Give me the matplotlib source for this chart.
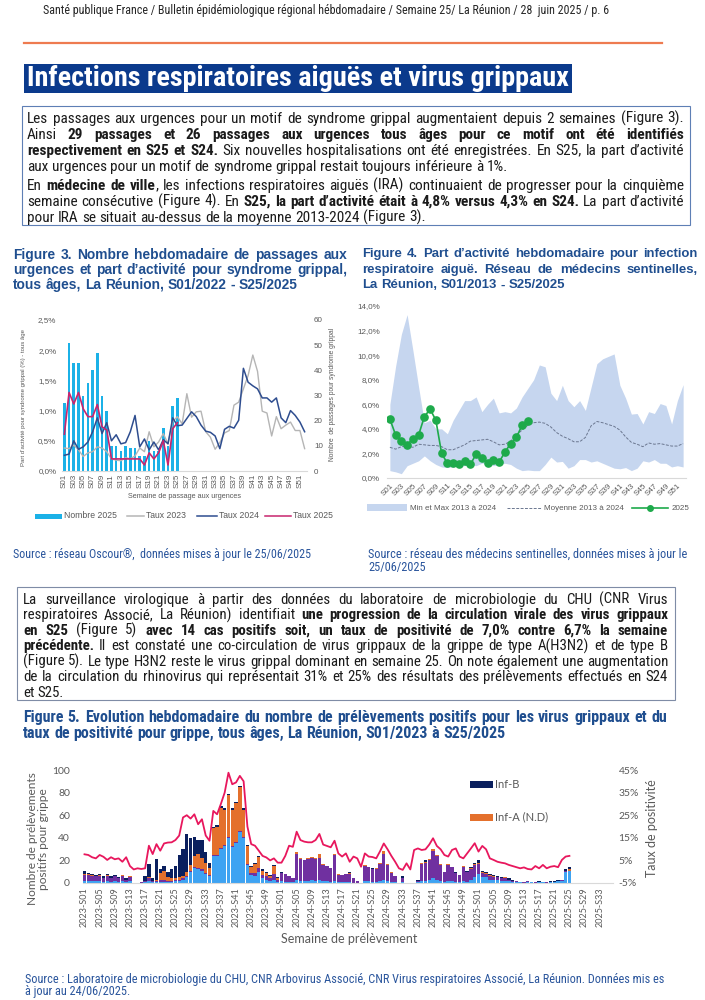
import matplotlib
matplotlib.use("Agg")
import matplotlib.pyplot as plt
from matplotlib import font_manager
from matplotlib.font_manager import FontProperties
from matplotlib.patches import Rectangle
from matplotlib.lines import Line2D
from matplotlib.ticker import FuncFormatter

W, H = 705, 1000

# ---------------- Figure 3 : passages aux urgences (S01..S52) ----------------
semaines = ["S%02d" % i for i in range(1, 53)]
nombre_2025 = [27, 51, 43, 43, 30, 35, 40, 47, 30, 24, 10, 10, 8, 10, 9, 9, 6, 6, 12, 8,
               8, 17, 10, 26, 29]
taux_2023 = [0.38, 0.37, 0.43, 0.35, 0.24, 0.30, 0.32, 0.40, 0.38, 0.32, 0.20, 0.18, 0.17,
             0.22, 0.20, 0.25, 0.38, 0.32, 0.65, 0.40, 0.48, 0.62, 0.45, 0.82, 0.90, 0.78,
             1.28, 0.89, 0.98, 0.99, 0.65, 0.56, 0.36, 0.47, 0.63, 0.67, 1.09, 1.14, 1.36,
             1.58, 1.92, 1.65, 0.99, 0.96, 0.58, 0.90, 0.70, 0.76, 0.81, 0.67, 0.67, 0.37]
taux_2024 = [0.26, 0.28, 0.50, 0.36, 0.40, 0.48, 0.65, 0.88, 0.62, 0.80, 0.50, 0.60, 0.45,
             0.47, 0.65, 0.92, 0.40, 0.53, 0.35, 0.48, 0.35, 0.52, 0.45, 0.88, 0.75, 0.76,
             0.87, 0.98, 0.90, 0.76, 0.66, 0.64, 0.58, 0.37, 0.69, 0.74, 0.71, 0.84, 1.70,
             1.47, 1.41, 1.36, 1.21, 1.21, 1.14, 1.21, 0.88, 0.80, 1.00, 0.92, 0.81, 0.65]
taux_2025 = [0.61, 1.30, 1.11, 1.30, 1.03, 0.90, 0.90, 1.10, 0.73, 0.68, 0.20, 0.20, 0.20,
             0.20, 0.20, 0.20, 0.20, 0.10, 0.30, 0.20, 0.30, 0.50, 0.10, 0.70, 0.80]

# ---------------- Figure 4 : IRA médecins sentinelles ----------------
ira_max = [6.0, 9.1, 11.7, 13.3, 10.4, 7.4, 4.5, 4.7, 4.0, 4.0, 3.6, 4.7, 5.5, 6.3, 6.3,
           6.6, 5.4, 6.0, 6.5, 5.3, 5.4, 5.3, 5.7, 6.6, 7.3, 8.0, 9.2, 9.05, 6.9, 6.3, 7.55,
           6.3, 5.8, 6.3, 5.5, 7.4, 9.3, 9.7, 9.9, 10.1, 7.55, 6.5, 5.2, 5.25, 4.4, 5.4,
           5.25, 6.06, 5.9, 4.4, 6.3, 7.6]
ira_min = [0.6, 0.5, 0.35, 1.0, 1.2, 1.4, 1.8, 1.4, 1.1, 0.9, 0.85, 0.9, 1.0, 1.0, 1.1,
           1.0, 1.2, 1.2, 1.0, 1.1, 1.2, 1.1, 0.8, 0.6, 0.65, 0.6, 0.6, 1.1, 1.7, 1.3, 1.35,
           0.8, 1.0, 1.5, 1.5, 1.3, 1.4, 1.2, 1.0, 0.8, 0.75, 0.85, 0.6, 0.8, 1.4, 1.3, 1.5,
           1.2, 1.2, 0.9, 1.0, 0.9]
ira_moyenne = [2.5, 2.35, 2.55, 2.6, 2.5, 2.75, 2.7, 2.65, 2.65, 2.55, 2.3, 2.3, 2.5, 2.7,
               3.0, 3.05, 3.1, 3.15, 2.95, 2.7, 2.75, 3.0, 3.5, 3.9, 4.3, 4.5, 4.55, 4.45,
               4.15, 3.7, 3.4, 3.2, 2.95, 2.95, 3.3, 4.25, 4.6, 4.5, 4.35, 4.2, 3.9, 3.35,
               2.9, 2.75, 2.55, 2.85, 2.75, 2.8, 2.7, 2.6, 2.6, 2.8]
ira_2025 = [4.8, 3.5, 3.0, 2.7, 3.2, 3.5, 5.0, 5.6, 4.7, 2.0, 1.2, 1.25, 1.1, 1.35, 1.1,
            1.95, 1.6, 1.2, 1.5, 1.3, 2.1, 2.8, 3.3, 4.3, 4.65]

# ---------------- Figure 5 : prélèvements positifs grippe ----------------
# 2023 S01..S52
h3n2_2023 = [2, 2, 2, 2, 2, 1, 2, 1, 2, 1, 2, 1, 2, 0, 0, 0,
             1, 2, 1, 1, 1, 1, 1, 1, 2, 2, 3, 5, 10, 13, 12, 11, 8, 6,
             24, 24, 30, 33, 40, 32, 35, 45, 40, 16, 7, 6, 10, 4, 3, 2, 3, 1]
h1n1_2023 = [5, 5, 4, 4, 4, 3, 4, 3, 4, 3, 4, 2, 3, 0, 0, 1,
             1, 2, 1, 1, 2, 2, 1, 1, 1, 1, 1, 1, 1, 1, 1, 1, 1, 1,
             1, 1, 1, 1, 1, 1, 1, 1, 1, 1, 2, 3, 3, 3, 3, 2, 5, 2]
a_nd_2023 = [1, 1, 1, 0, 1, 0, 1, 0, 0, 0, 1, 0, 1, 0, 0, 0,
             0, 1, 0, 1, 6, 8, 3, 2, 1, 2, 2, 4, 5, 10, 13, 10, 9, 6,
             24, 25, 35, 31, 37, 32, 35, 39, 24, 16, 5, 8, 10, 4, 3, 2, 7, 1]
inf_b_2023 = [3, 1, 1, 1, 1, 2, 1, 2, 1, 1, 0, 1, 0, 0, 0, 0,
              4, 12, 2, 18, 3, 4, 5, 8, 11, 20, 24, 33, 24, 17, 12, 16, 9, 5,
              1, 1, 2, 1, 1, 1, 1, 1, 1, 1, 1, 1, 1, 1, 1, 1, 1, 1]
positivite_2023 = [7.7, 7.4, 6.4, 5.9, 7.4, 6.6, 5.2, 6.4, 5.5, 5.9, 4.4, 6.4, 2.5, 1.0,
                   1.5, 1.2, 1.5, 11.5, 7.8, 12.2, 9.3, 12.5, 12.9, 13.0, 14.0, 16.0, 24.0,
                   25.0, 23.5, 25.4, 21.0, 23.2, 16.0, 13.7, 26.9, 25.4, 30.0, 35.0, 43.8,
                   38.7, 39.5, 42.4, 40.0, 20.0, 12.2, 11.5, 9.3, 7.0, 6.3, 5.0, 5.9, 4.0]
# 2024 S01..S52
h3n2_2024 = [2, 1, 1, 1, 3, 2, 2, 2, 3, 2, 3, 2, 2, 1, 2, 1, 1, 1, 1, 0, 0, 0,
             2, 2, 1, 1, 2, 3, 2, 1, 1, 0, 1, 0, 0, 0,
             1, 2, 2, 3, 4, 3, 2, 1, 2, 2, 1, 1, 2, 1, 3, 5]
h1n1_2024 = [7, 7, 5, 3, 23, 19, 18, 19, 19, 19, 19, 14, 13, 12, 23, 6, 6, 7, 7, 4, 2, 0,
             13, 12, 11, 11, 15, 23, 14, 8, 5, 0, 3, 0, 0, 0,
             1, 15, 16, 17, 24, 21, 14, 9, 14, 12, 8, 6, 12, 9, 9, 11]
a_nd_2024 = [0, 0, 0, 0, 1, 1, 0, 1, 1, 1, 4, 1, 0, 0, 1, 1, 0, 0, 1, 0, 0, 0,
             1, 0, 0, 1, 1, 2, 1, 1, 0, 0, 0, 0, 0, 0,
             0, 1, 1, 1, 2, 1, 1, 0, 1, 0, 0, 0, 1, 0, 1, 1]
inf_b_2024 = [1, 0, 0, 0, 0, 0, 0, 0, 0, 0, 0, 0, 0, 0, 0, 0, 0, 0, 1, 0, 0, 0,
              0, 0, 1, 0, 0, 0, 0, 0, 0, 0, 2, 0, 0, 0,
              1, 0, 1, 0, 0, 0, 0, 0, 0, 0, 1, 0, 0, 1, 1, 1]
positivite_2024 = [4.0, 7.0, 11.5, 11.0, 17.7, 14.0, 13.3, 13.0, 13.0, 14.0, 16.7, 12.0,
                   11.4, 10.8, 13.7, 8.1, 6.7, 8.1, 4.4, 6.7, 5.9, 2.2, 8.1, 6.7, 6.5, 5.9,
                   9.0, 12.5, 9.9, 7.0, 4.4, 1.5, 0.8, 3.7, 1.0, 9.6, 10.3, 9.6, 9.9, 12.0,
                   14.8, 11.4, 9.9, 7.4, 6.7, 9.6, 10.3, 6.7, 5.9, 8.1, 10.3, 12.6]
# 2025 S01..S25
h3n2_2025 = [8, 5, 5, 3, 3, 3, 2, 2, 2, 1, 1, 1, 0, 1, 1, 0, 1, 1, 0, 1, 1, 2, 2, 10, 11]
h1n1_2025 = [9, 4, 3, 3, 2, 2, 2, 2, 1, 1, 1, 0, 1, 1, 0, 1, 0, 0, 1, 0, 0, 0, 1, 1, 0]
a_nd_2025 = [1, 1, 1, 1, 1, 0, 0, 1, 0, 0, 0, 0, 0, 0, 0, 0, 0, 0, 0, 0, 0, 0, 0, 0, 1]
inf_b_2025 = [2, 1, 1, 1, 1, 1, 1, 0, 1, 1, 0, 0, 0, 0, 0, 0, 1, 0, 0, 1, 1, 1, 0, 1, 2]
positivite_2025 = [8.9, 11.4, 9.9, 5.9, 5.2, 4.4, 4.0, 3.7, 3.0, 2.5, 2.0, 1.5, 1.9, 1.2,
                   1.0, 2.5, 1.5, 3.0, 1.5, 2.2, 2.5, 2.0, 5.2, 6.7, 7.0]

semaines_prelev = (["2023-S%02d" % i for i in range(1, 53)] +
                   ["2024-S%02d" % i for i in range(1, 53)] +
                   ["2025-S%02d" % i for i in range(1, 37)])

# ---------------- textes ----------------
entete = ("Santé publique France / Bulletin épidémiologique régional hébdomadaire / "
          "Semaine 25/ La Réunion / 28  juin 2025 / p. 6")
bandeau = "Infections respiratoires aiguës et virus grippaux"

encadre1 = [
    [("Les passages aux urgences pour un motif de syndrome grippal augmentaient depuis 2 semaines (Figure 3).", 0)],
    [("Ainsi ", 0), ("29 passages et 26 passages aux urgences tous âges pour ce motif ont été identifiés", 1)],
    [("respectivement en S25 et S24.", 1), (" Six nouvelles hospitalisations ont été enregistrées. En S25, la part d’activité", 0)],
    [("aux urgences pour un motif de syndrome grippal restait toujours inférieure à 1%.", 0)],
    [("En ", 0), ("médecine de ville", 1), (", les infections respiratoires aiguës (IRA) continuaient de progresser pour la cinquième", 0)],
    [("semaine consécutive (Figure 4). En ", 0), ("S25, la part d’activité était à 4,8% versus 4,3% en S24.", 1), (" La part d’activité", 0)],
    [("pour IRA se situait au-dessus de la moyenne 2013-2024 (Figure 3).", 0)],
]
encadre1_justif = [1, 1, 1, 0, 1, 1, 0]

encadre2 = [
    [("La surveillance virologique à partir des données du laboratoire de microbiologie du CHU (CNR Virus", 0)],
    [("respiratoires Associé, La Réunion) identifiait ", 0), ("une progression de la circulation virale des virus grippaux", 1)],
    [("en S25", 1), (" (Figure 5) ", 0), ("avec 14 cas positifs soit, un taux de positivité de 7,0% contre 6,7% la semaine", 1)],
    [("précédente.", 1), (" Il est constaté une co-circulation de virus grippaux de la grippe de type A(H3N2) et de type B", 0)],
    [("(Figure 5). Le type H3N2 reste le virus grippal dominant en semaine 25. On note également une augmentation", 0)],
    [("de la circulation du rhinovirus qui représentait 31% et 25% des résultats des prélèvements effectués en S24", 0)],
    [("et S25.", 0)],
]
encadre2_justif = [1, 1, 1, 1, 1, 1, 0]

titre3 = [[("Figure 3. Nombre hebdomadaire de passages aux", 1)],
          [("urgences et part d’activité pour syndrome grippal,", 1)],
          [("tous âges, La Réunion, S01/2022 - S25/2025", 1)]]
titre4 = [[("Figure 4.  Part d’activité hebdomadaire pour infection", 1)],
          [("respiratoire aiguë. Réseau de médecins sentinelles,", 1)],
          [("La Réunion, S01/2013 - S25/2025", 1)]]
titre5 = [[("Figure 5. Evolution hebdomadaire du nombre de prélèvements positifs pour les virus grippaux et du", 1)],
          [("taux de positivité pour grippe, tous âges, La Réunion, S01/2023 à S25/2025", 1)]]

# ---------------- polices / couleurs ----------------
noms = {f.name for f in font_manager.fontManager.ttflist}
ARIAL = "Liberation Sans"
CALIBRI = "Lato" if "Lato" in noms else "DejaVu Sans"
plt.rcParams["font.family"] = ARIAL


def poids(f):
    if isinstance(f.weight, (int, float)):
        return int(f.weight)
    return {"bold": 700, "normal": 400, "regular": 400, "book": 400}.get(str(f.weight).lower(), 400)


def fichier_etroit(gras):
    # cherche une police sans empattement étroite (type Arial Narrow) installée
    ordre = ["liberation", "arial", "roboto", "open sans", "noto sans", "dejavu sans"]
    best = None
    for f in font_manager.fontManager.ttflist:
        n = f.name.lower()
        etroit = "narrow" in n or "condensed" in n or f.stretch in ("condensed", "semi-condensed")
        if not etroit or f.style != "normal" or "mono" in n or "cjk" in n:
            continue
        if "serif" in n and "sans" not in n:
            continue
        w = poids(f)
        if (gras and w != 700) or (not gras and w != 400):
            continue
        rang = next((i for i, o in enumerate(ordre) if o in n), len(ordre))
        if best is None or rang < best[0]:
            best = (rang, f.fname)
    return best[1] if best else None


ETROIT = {"normal": fichier_etroit(False), "bold": fichier_etroit(True)}


def props(fam, weight="normal"):
    if fam == "narrow":
        if ETROIT["normal"] and ETROIT["bold"]:
            return {"fontproperties": FontProperties(fname=ETROIT[weight])}
        fam = ARIAL
    return {"family": fam, "weight": weight}


BLEU_TITRE = "#1F4E8F"
BLEU_SOURCE = "#2A559C"
GRIS = "#595959"

fig = plt.figure(figsize=(W / 100, H / 100), dpi=100)
rend = fig.canvas.get_renderer()


def px(x):
    return x / W


def py(y):
    return 1 - y / H


def largeur(s, size, fam, weight="normal"):
    t = fig.text(0, 0, s, fontsize=size, **props(fam, weight))
    w = t.get_window_extent(renderer=rend).width
    t.remove()
    return w


def mots(segs):
    # découpe les segments (texte, gras) en mots, en gardant les morceaux collés
    toks, cur = [], []
    for txt, gras in segs:
        for i, m in enumerate(txt.split(" ")):
            if i > 0 and cur:
                toks.append(cur)
                cur = []
            if m:
                cur.append((m, "bold" if gras else "normal"))
    if cur:
        toks.append(cur)
    return toks


def paragraphe(lignes, justif, x0, x1, ys, fam, color, maxsize=20):
    ref = 10.0
    esp = largeur("a a", ref, fam) - largeur("aa", ref, fam)
    toks = [mots(l) for l in lignes]
    # taille de police pour que la ligne justifiée la plus longue tienne
    echelle = []
    for tk, j in zip(toks, justif):
        nat = sum(largeur(m, ref, fam, w) for tok in tk for m, w in tok) + esp * (len(tk) - 1)
        if j:
            echelle.append((x1 - x0) / nat)
    size = min(maxsize, ref * min(echelle) * 0.985) if echelle else maxsize
    esp = esp * size / ref
    for tk, j, y in zip(toks, justif, ys):
        larg = [sum(largeur(m, size, fam, w) for m, w in tok) for tok in tk]
        gap = (x1 - x0 - sum(larg)) / (len(tk) - 1) if (j and len(tk) > 1) else esp
        base = y + 0.33 * size * 100 / 72
        x = x0
        for tok, lw in zip(tk, larg):
            xx = x
            for m, w in tok:
                fig.text(px(xx), py(base), m, fontsize=size, color=color, ha="left",
                         va="baseline", **props(fam, w))
                xx += largeur(m, size, fam, w)
            x += lw + gap


def ligne_ajustee(s, x0, x1, y, fam, color, weight="normal"):
    size = 10.0 * (x1 - x0) / largeur(s, 10.0, fam, weight)
    fig.text(px(x0), py(y + 0.33 * size * 100 / 72), s, fontsize=size, color=color,
             ha="left", va="baseline", **props(fam, weight))
    return size


def ligne_simple(s, x0, y, size, fam, color):
    fig.text(px(x0), py(y + 0.33 * size * 100 / 72), s, fontsize=size, color=color,
             ha="left", va="baseline", **props(fam))


# ---------------- en-tête ----------------
ligne_ajustee(entete, 43, 610, 10, "narrow", "#262626")
fig.add_artist(Line2D([px(24), px(662)], [py(43), py(43)], color="#EE7B50", lw=1.6))
fig.add_artist(Rectangle((px(24), py(93)), 548 / W, 29 / H, color="#0B3A8C", lw=0))
ligne_ajustee(bandeau, 27, 570, 77, "narrow", "white", "bold")

# encadré 1
fig.add_artist(Rectangle((px(22), py(225)), 668 / W, 119 / H, fill=False,
                         edgecolor="#5E7FB5", lw=0.8))
paragraphe(encadre1, encadre1_justif, 27, 684,
           [117.5, 133.5, 149.5, 165.5, 184.5, 200.5, 216.5], "narrow", "#1A1A1A")

# titres figures 3 et 4
paragraphe(titre3, [1, 1, 0], 13, 347, [254, 269, 284], ARIAL, BLEU_TITRE)
paragraphe(titre4, [1, 1, 0], 362, 698, [253, 269, 284], ARIAL, BLEU_TITRE)

# ---------------- Figure 3 ----------------
ax3 = fig.add_axes([px(62), py(471), 245 / W, 151 / H])
ax3t = ax3.twinx()
x3 = list(range(52))
ax3.bar(x3[:25], nombre_2025, width=0.55, color="#1BB1E7", lw=0)
ax3.set_ylim(0, 60)
ax3.set_xlim(-0.5, 51.5)
ax3.set_yticks(range(0, 61, 10))
ax3.yaxis.tick_right()
ax3t.yaxis.tick_left()
ax3t.plot(x3, taux_2023, color="#B5B5B5", lw=1.0)
ax3t.plot(x3, taux_2024, color="#2E4D8F", lw=1.1)
ax3t.plot(x3[:25], taux_2025, color="#C8246E", lw=1.2)
ax3t.set_ylim(0, 2.5)
ax3t.set_yticks([0, 0.5, 1.0, 1.5, 2.0, 2.5])
ax3t.yaxis.set_major_formatter(FuncFormatter(lambda v, p: ("%.1f%%" % v).replace(".", ",")))
ax3.set_xticks(x3[::2])
ax3.set_xticklabels(semaines[::2], rotation=90)
for a in (ax3, ax3t):
    for s in ("top", "left", "right"):
        a.spines[s].set_visible(False)
    a.tick_params(length=0, labelsize=5.8, colors=GRIS)
ax3t.spines["bottom"].set_visible(False)
ax3.spines["bottom"].set_color("#D9D9D9")
ax3.tick_params(axis="y", pad=5)
ax3t.tick_params(axis="y", pad=4)
ax3.tick_params(axis="x", pad=2)
fig.text(px(24), py(398), "Part d’activité pour syndrome grippal (%) - tous âge", rotation=90,
         fontsize=4.3, color=GRIS, ha="center", va="center")
fig.text(px(333), py(394), "Nombre  de passages pour syndrome grippal", rotation=90,
         fontsize=4.8, color=GRIS, ha="center", va="center")
fig.text(px(185), py(497), "Semaine de passage aux urgences", fontsize=5.2, color=GRIS,
         ha="center", va="center")
# légende figure 3
fig.add_artist(Rectangle((px(35), py(518.5)), 27 / W, 5 / H, color="#1BB1E7", lw=0))
fig.text(px(64), py(516), "Nombre 2025", fontsize=6.2, color=GRIS, va="center")
for xa, xb, c, lab in [(127, 144, "#B5B5B5", "Taux 2023"), (197, 217, "#2E4D8F", "Taux 2024"),
                       (265, 291, "#C8246E", "Taux 2025")]:
    fig.add_artist(Line2D([px(xa), px(xb)], [py(516), py(516)], color=c, lw=1.1))
    fig.text(px(xb + 2), py(516), lab, fontsize=6.2, color=GRIS, va="center")

# ---------------- Figure 4 ----------------
ax4 = fig.add_axes([px(387), py(478), 299 / W, 172 / H])
x4 = list(range(52))
ax4.fill_between(x4, ira_min, ira_max, color="#C6D6EF", lw=0)
ax4.plot(x4, ira_moyenne, color="#6B7790", lw=0.7, ls=(0, (3, 1.5)))
ax4.plot(x4[:25], ira_2025, color="#1EAA4B", lw=1.2, marker="o", ms=5.2)
ax4.set_ylim(0, 14)
ax4.set_xlim(-0.5, 51.5)
ax4.set_yticks(range(0, 15, 2))
ax4.yaxis.set_major_formatter(FuncFormatter(lambda v, p: ("%.1f%%" % v).replace(".", ",")))
ax4.set_xticks(x4[::2])
ax4.set_xticklabels(semaines[::2], rotation=45, ha="right", rotation_mode="anchor")
for s in ("top", "left", "right"):
    ax4.spines[s].set_visible(False)
ax4.spines["bottom"].set_color("#D9D9D9")
ax4.tick_params(length=0, labelsize=5.8, colors=GRIS)
ax4.tick_params(axis="y", pad=5)
ax4.tick_params(axis="x", pad=3)
# légende figure 4
fig.add_artist(Rectangle((px(367), py(511.5)), 40 / W, 7 / H, color="#C6D6EF", lw=0))
fig.text(px(410), py(508), "Min et Max 2013 à 2024", fontsize=5.8, color=GRIS, va="center")
fig.add_artist(Line2D([px(507), px(542)], [py(508), py(508)], color="#6B7790", lw=0.7,
                      ls=(0, (3, 1.5))))
fig.text(px(544), py(508), "Moyenne 2013 à 2024", fontsize=5.8, color=GRIS, va="center")
fig.add_artist(Line2D([px(632), px(668)], [py(508), py(508)], color="#1EAA4B", lw=1.2))
fig.add_artist(Line2D([px(650)], [py(508)], color="#1EAA4B", marker="o", ms=4))
fig.text(px(672), py(508), "2025", fontsize=5.8, color=GRIS, va="center")

# sources
ligne_ajustee("Source : réseau Oscour®,  données mises à jour le 25/06/2025", 13, 309, 554,
              "narrow", BLEU_SOURCE)
s_src = ligne_ajustee("Source : réseau des médecins sentinelles, données mises à jour le",
                      368, 684, 554, "narrow", BLEU_SOURCE)
ligne_simple("25/06/2025", 368, 567, s_src, "narrow", BLEU_SOURCE)

# encadré 2
fig.add_artist(Rectangle((px(17), py(700)), 658 / W, 113 / H, fill=False,
                         edgecolor="#7F8CA6", lw=0.8))
paragraphe(encadre2, encadre2_justif, 23, 668,
           [599, 614.5, 630, 645.5, 661, 676.5, 692], "narrow", "#1A1A1A")

paragraphe(titre5, [1, 0], 23, 667, [717, 733], "narrow", BLEU_TITRE)

# ---------------- Figure 5 ----------------
a_h3n2 = h3n2_2023 + h3n2_2024 + h3n2_2025
a_h1n1 = h1n1_2023 + h1n1_2024 + h1n1_2025
a_nd = a_nd_2023 + a_nd_2024 + a_nd_2025
inf_b = inf_b_2023 + inf_b_2024 + inf_b_2025
positivite = positivite_2023 + positivite_2024 + positivite_2025
x5 = list(range(len(a_h3n2)))

ax5 = fig.add_axes([px(82.6), py(883), 530.4 / W, 113 / H])
ax5t = ax5.twinx()
b1 = a_h3n2
b2 = [a + b for a, b in zip(b1, a_h1n1)]
b3 = [a + b for a, b in zip(b2, a_nd)]
ax5.bar(x5, a_h3n2, width=0.9, color="#3EA3F2", lw=0)
ax5.bar(x5, a_h1n1, bottom=b1, width=0.9, color="#7030A0", lw=0)
ax5.bar(x5, a_nd, bottom=b2, width=0.9, color="#E4702C", lw=0)
ax5.bar(x5, inf_b, bottom=b3, width=0.9, color="#0A1F5E", lw=0)
ax5t.plot(x5, positivite, color="#E8175D", lw=1.3)
ax5.set_ylim(0, 100)
ax5t.set_ylim(-5, 45)
ax5.set_xlim(-0.5, len(semaines_prelev) - 0.5)
ax5.set_yticks(range(0, 101, 20))
ax5t.set_yticks(range(-5, 46, 10))
ax5t.yaxis.set_major_formatter(FuncFormatter(lambda v, p: "%d%%" % round(v)))
ax5.set_xticks(list(range(0, len(semaines_prelev), 4)))
ax5.set_xticklabels(semaines_prelev[::4], rotation=90)
for a in (ax5, ax5t):
    for s in ("top", "left", "right"):
        a.spines[s].set_visible(False)
    a.tick_params(length=0, labelsize=7.5, colors=GRIS, labelfontfamily=CALIBRI)
ax5t.spines["bottom"].set_visible(False)
ax5.spines["bottom"].set_color("#D9D9D9")
ax5.tick_params(axis="x", labelsize=6.5, pad=3)
ax5.tick_params(axis="y", pad=9)
ax5t.tick_params(axis="y", pad=4)
fig.text(px(38), py(839), "Nombre de prélèvements\npositifs pour grippe", rotation=90,
         fontsize=8.6, family=CALIBRI, color=GRIS, ha="center", va="center", linespacing=1.0)
fig.text(px(652), py(828), "Taux de positivité", rotation=90, fontsize=9, family=CALIBRI,
         color=GRIS, ha="center", va="center")
fig.text(px(349), py(939), "Semaine de prélèvement", fontsize=9, family=CALIBRI, color=GRIS,
         ha="center", va="center")
# légende figure 5
fig.add_artist(Rectangle((px(470), py(787.5)), 23 / W, 7 / H, color="#0A1F5E", lw=0))
fig.text(px(495), py(784), "Inf-B", fontsize=8, family=CALIBRI, color=GRIS, va="center")
fig.add_artist(Rectangle((px(470), py(820.5)), 23 / W, 7 / H, color="#E4702C", lw=0))
fig.text(px(495), py(817), "Inf-A (N.D)", fontsize=8, family=CALIBRI, color=GRIS, va="center")

# source figure 5
s5 = ligne_ajustee("Source : Laboratoire de microbiologie du CHU, CNR Arbovirus Associé, CNR Virus "
                   "respiratoires Associé, La Réunion. Données mis es", 25, 657, 979, "narrow",
                   BLEU_SOURCE)
ligne_simple("à jour au 24/06/2025.", 25, 991, s5, "narrow", BLEU_SOURCE)

fig.savefig("out.png", dpi=100)
